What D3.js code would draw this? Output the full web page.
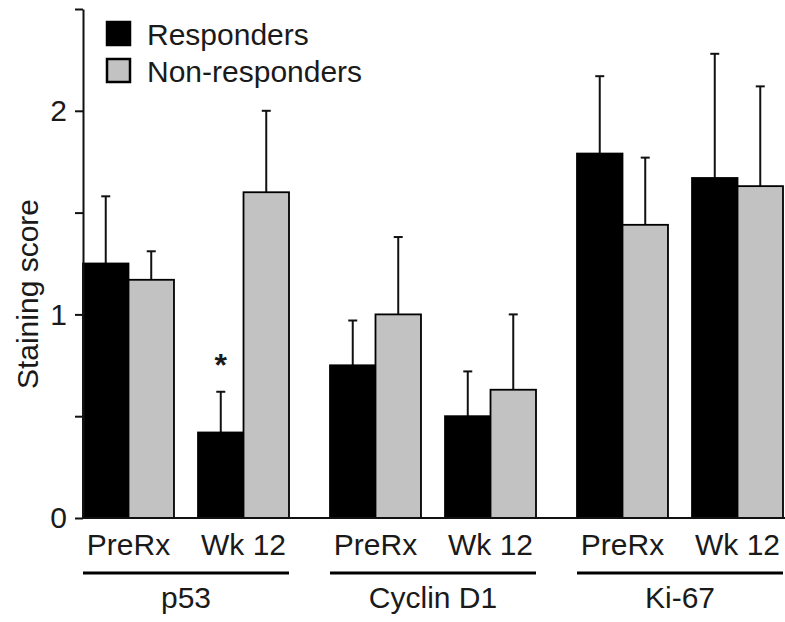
<!DOCTYPE html>
<html lang="en">
<head>
<meta charset="UTF-8">
<title>Staining score</title>
<style>
    body { margin: 0; background: #fff; }
    svg { display: block; }
    text { font-family: 'Liberation Sans', Arial, sans-serif; fill: #1a1a1a; }
</style>
</head>
<body>
<svg width="785" height="622"></svg>
<script src="https://d3js.org/d3.v7.min.js"></script>
<script>
    // data
    const markers = ["p53", "Cyclin D1", "Ki-67"];
    const timepoints = ["PreRx", "Wk 12"];
    const series = ["Responders", "Non-responders"];
    // order: p53 PreRx, p53 Wk12, CycD1 PreRx, CycD1 Wk12, Ki-67 PreRx, Ki-67 Wk12
    const respMean = [1.25, 0.42, 0.75, 0.50, 1.79, 1.67];
    const respErr = [0.33, 0.20, 0.22, 0.22, 0.38, 0.61];
    const nonMean = [1.17, 1.60, 1.00, 0.63, 1.44, 1.63];
    const nonErr = [0.14, 0.40, 0.38, 0.37, 0.33, 0.49];
    const yTicks = [0, 0.5, 1, 1.5, 2, 2.5];
    const significant = [{ marker: "p53", time: "Wk 12", series: "Responders" }];

    const colors = { "Responders": "#000", "Non-responders": "#c2c2c2" };
    const fs = 30;

    const svg = d3.select("svg");
    const mLeft = 83, mRight = 783, mBase = 518, mTop = 9;

    const y = d3.scaleLinear().domain([0, 2.5]).range([mBase, mTop]);
    const x0 = d3.scaleBand().domain(markers).range([mLeft, mRight]).paddingInner(0.166).paddingOuter(0);
    const x1 = d3.scaleBand().domain(timepoints).range([0, x0.bandwidth()]).paddingInner(0.209).paddingOuter(0);
    const x2 = d3.scaleBand().domain(series).range([0, x1.bandwidth()]);

    // flatten
    const rows = [];
    markers.forEach((m, i) => {
        timepoints.forEach((t, j) => {
            const k = i * 2 + j;
            rows.push({ marker: m, time: t, series: "Responders", mean: respMean[k], err: respErr[k] });
            rows.push({ marker: m, time: t, series: "Non-responders", mean: nonMean[k], err: nonErr[k] });
        });
    });
    const xPos = d => x0(d.marker) + x1(d.time) + x2(d.series);

    // error bars (upper only)
    const eb = svg.append("g").selectAll("g").data(rows).enter().append("g")
        .attr("stroke", "#111").attr("stroke-width", 2);
    eb.append("line")
        .attr("x1", d => xPos(d) + x2.bandwidth() / 2)
        .attr("x2", d => xPos(d) + x2.bandwidth() / 2)
        .attr("y1", d => y(d.mean))
        .attr("y2", d => y(d.mean + d.err));
    eb.append("line")
        .attr("x1", d => xPos(d) + x2.bandwidth() / 2 - 4.5)
        .attr("x2", d => xPos(d) + x2.bandwidth() / 2 + 4.5)
        .attr("y1", d => y(d.mean + d.err))
        .attr("y2", d => y(d.mean + d.err));

    // bars
    svg.append("g").selectAll("rect").data(rows).enter().append("rect")
        .attr("x", d => xPos(d))
        .attr("y", d => y(d.mean))
        .attr("width", x2.bandwidth())
        .attr("height", d => mBase - y(d.mean))
        .attr("fill", d => colors[d.series])
        .attr("stroke", "#000")
        .attr("stroke-width", 1.8);

    // asterisk
    svg.append("g").selectAll("text").data(significant).enter().append("text")
        .attr("x", d => xPos(d) + x2.bandwidth() / 2)
        .attr("y", d => {
            const r = rows.find(r => r.marker === d.marker && r.time === d.time && r.series === d.series);
            return y(r.mean + r.err) - 16;
        })
        .attr("text-anchor", "middle")
        .attr("font-size", 32)
        .attr("font-weight", "bold")
        .text("*");

    // y axis
    const yAxis = d3.axisLeft(y)
        .tickValues(yTicks)
        .tickFormat(d => Number.isInteger(d) ? d : "")
        .tickSize(8)
        .tickSizeOuter(0)
        .tickPadding(8);
    const ga = svg.append("g").attr("transform", `translate(${mLeft},0)`).call(yAxis);
    ga.select(".domain").attr("stroke", "#111").attr("stroke-width", 2);
    ga.selectAll(".tick line").attr("stroke", "#111").attr("stroke-width", 2);
    ga.selectAll(".tick text").attr("font-size", fs).attr("fill", "#1a1a1a")
        .style("font-family", "'Liberation Sans', Arial, sans-serif");

    // baseline
    svg.append("line")
        .attr("x1", mLeft).attr("x2", 785)
        .attr("y1", mBase).attr("y2", mBase)
        .attr("stroke", "#111").attr("stroke-width", 2);

    // y title
    svg.append("text")
        .attr("transform", `translate(38,${y(1.1)}) rotate(-90)`)
        .attr("text-anchor", "middle")
        .attr("font-size", fs)
        .text("Staining score");

    // x labels
    const grp = svg.append("g").selectAll("g").data(markers).enter().append("g")
        .attr("transform", d => `translate(${x0(d)},0)`);
    grp.selectAll("text.tp").data(timepoints).enter().append("text")
        .attr("class", "tp")
        .attr("x", d => x1(d) + x1.bandwidth() / 2)
        .attr("y", 555)
        .attr("text-anchor", "middle")
        .attr("font-size", fs)
        .text(d => d);
    grp.append("line")
        .attr("x1", 0).attr("x2", x0.bandwidth())
        .attr("y1", 573).attr("y2", 573)
        .attr("stroke", "#000").attr("stroke-width", 3);
    grp.append("text")
        .attr("x", x0.bandwidth() / 2)
        .attr("y", 608)
        .attr("text-anchor", "middle")
        .attr("font-size", fs)
        .text(d => d);

    // legend
    const lg = svg.append("g").attr("transform", "translate(107,22)");
    const li = lg.selectAll("g").data(series).enter().append("g")
        .attr("transform", (d, i) => `translate(0,${i * 37})`);
    li.append("rect")
        .attr("x", 0).attr("y", 0).attr("width", 23).attr("height", 23)
        .attr("fill", d => colors[d])
        .attr("stroke", "#000").attr("stroke-width", 2.5);
    li.append("text")
        .attr("x", 40).attr("y", 23)
        .attr("font-size", fs)
        .text(d => d);
</script>
</body>
</html>
